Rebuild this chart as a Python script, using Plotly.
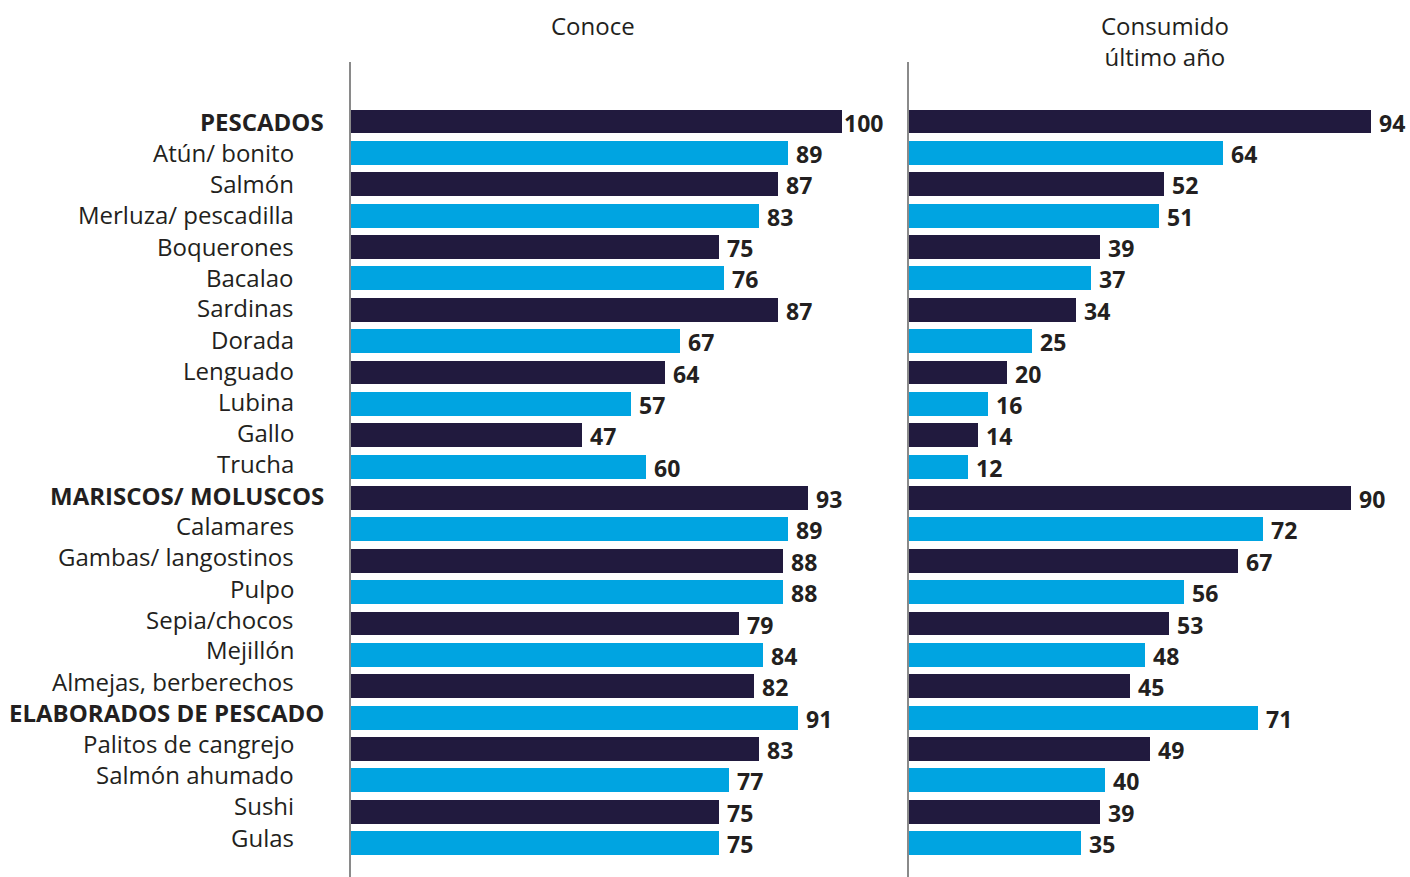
import plotly.graph_objects as go

categories = ["PESCADOS", "Atún/ bonito", "Salmón", "Merluza/ pescadilla", "Boquerones",
              "Bacalao", "Sardinas", "Dorada", "Lenguado", "Lubina", "Gallo", "Trucha",
              "MARISCOS/ MOLUSCOS", "Calamares", "Gambas/ langostinos", "Pulpo",
              "Sepia/chocos", "Mejillón", "Almejas, berberechos",
              "ELABORADOS DE PESCADO", "Palitos de cangrejo", "Salmón ahumado", "Sushi", "Gulas"]
headers = ["PESCADOS", "MARISCOS/ MOLUSCOS", "ELABORADOS DE PESCADO"]
conoce = [100, 89, 87, 83, 75, 76, 87, 67, 64, 57, 47, 60, 93, 89, 88, 88, 79, 84, 82, 91, 83, 77, 75, 75]
consumido = [94, 64, 52, 51, 39, 37, 34, 25, 20, 16, 14, 12, 90, 72, 67, 56, 53, 48, 45, 71, 49, 40, 39, 35]
panel_titles = ["Conoce", "Consumido<br>último año"]

DARK = "#211a3e"
BLUE = "#00a4e1"
TXT = "#231f20"
FONT = "Open Sans"
colors = [DARK if i % 2 == 0 else BLUE for i in range(len(categories))]

W, H, T = 1410, 877, 62
PH = H - T
fig = go.Figure()
annotations = []
for vals, xa, ya in [(conoce, "x", "y"), (consumido, "x2", "y2")]:
    fig.add_trace(go.Bar(
        x=vals, y=categories, orientation="h", xaxis=xa, yaxis=ya,
        marker=dict(color=colors, line=dict(width=0)), width=0.76,
        showlegend=False, hoverinfo="skip"))
    for c, v in zip(categories, vals):
        annotations.append(dict(
            x=v, y=c, xref=xa, yref=ya, text=f"<b>{v}</b>", showarrow=False,
            xanchor="left", yanchor="middle", xshift=0 if v >= 100 else 6, yshift=-1,
            font=dict(family=FONT, size=23, color=TXT)))

yr = [24.08, -1.897]
ycommon = dict(type="category", categoryorder="array", categoryarray=categories,
               range=yr, showticklabels=False, showgrid=False, zeroline=False,
               showline=True, linecolor="#8a8a8a", linewidth=1.5, ticks="")
xcommon = dict(showticklabels=False, showgrid=False, zeroline=False, showline=False)

fig.update_layout(
    width=W, height=H, margin=dict(l=0, r=0, t=T, b=0),
    paper_bgcolor="white", plot_bgcolor="white",
    bargap=0,
    xaxis=dict(domain=[351 / W, 900 / W], range=[0, 549 / 4.91], **xcommon),
    xaxis2=dict(domain=[909 / W, 1.0], range=[0, 501 / 4.91], **xcommon),
    yaxis=dict(anchor="x", **ycommon),
    yaxis2=dict(anchor="x2", **ycommon),
)

for i, c in enumerate(categories):
    is_h = c in headers
    annotations.append(dict(
        x=(326 if is_h else 296) / W, xref="paper", y=c, yref="y",
        text=f"<b>{c}</b>" if is_h else c, showarrow=False, xanchor="right",
        yanchor="middle", yshift=round(i * 0.27),
        font=dict(family=FONT, size=24, color=TXT)))
annotations.append(dict(x=593 / W, y=1 + (T - 25) / PH, xref="paper", yref="paper",
                        xanchor="center", yanchor="middle",
                        text=panel_titles[0], showarrow=False,
                        font=dict(family=FONT, size=24, color=TXT)))
annotations.append(dict(x=1165 / W, y=1 + (T - 41) / PH, xref="paper", yref="paper",
                        xanchor="center", yanchor="middle",
                        text=panel_titles[1], showarrow=False,
                        font=dict(family=FONT, size=24, color=TXT)))
fig.update_layout(annotations=annotations)

fig.write_html("out.html")
